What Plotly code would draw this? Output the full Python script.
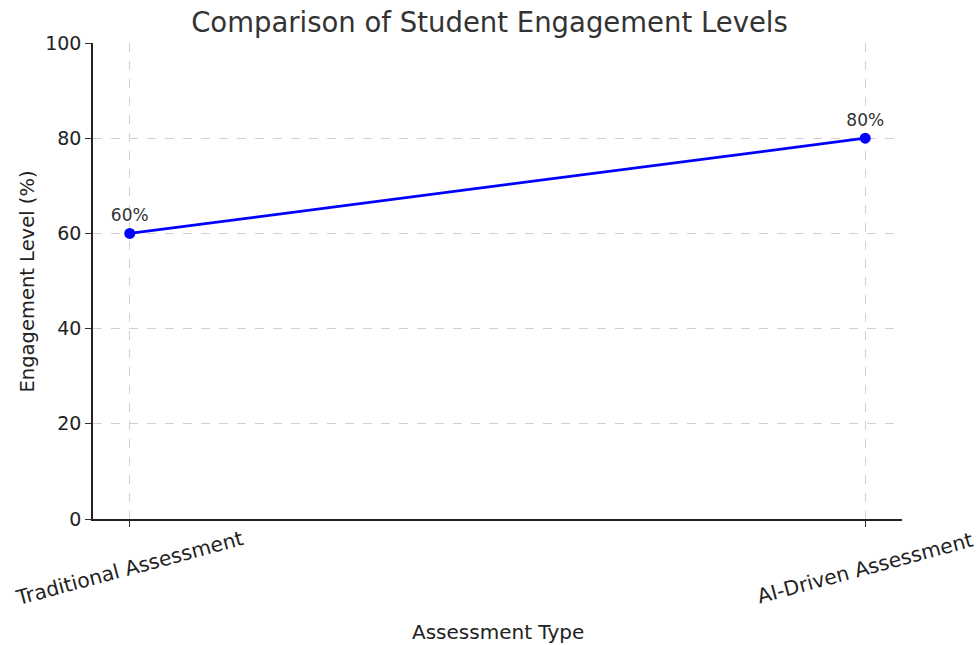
import plotly.graph_objects as go

categories = ["Traditional Assessment", "AI-Driven Assessment"]
engagement = [60, 80]
labels = ["60%", "80%"]
y_ticks = [0, 20, 40, 60, 80, 100]

FONT = "DejaVu Sans"

fig = go.Figure()
fig.add_trace(go.Scatter(
    x=categories, y=engagement,
    mode="lines+markers+text",
    line=dict(color="#0000FF", width=2.7),
    marker=dict(color="#0000FF", size=11),
    text=labels, textposition="top center",
    textfont=dict(family=FONT, size=17, color="#333333"),
    cliponaxis=False, showlegend=False,
))

for c in categories:
    fig.add_annotation(
        x=c, y=-0.103, xref="x", yref="paper",
        text=c, showarrow=False, textangle=-15,
        xanchor="center", yanchor="middle",
        font=dict(family=FONT, size=20.3, color="#222222"),
    )

fig.add_annotation(x=0.5, y=-0.237, xref="paper", yref="paper",
                   text="Assessment Type", showarrow=False,
                   xanchor="center", yanchor="middle",
                   font=dict(family=FONT, size=20, color="#222222"))
fig.add_annotation(x=-0.081, y=0.5, xref="paper", yref="paper",
                   text="Engagement Level (%)", showarrow=False, textangle=-90,
                   xanchor="center", yanchor="middle",
                   font=dict(family=FONT, size=19.5, color="#222222"))

grid = dict(showgrid=True, gridcolor="#d0d0d0", griddash="dash", gridwidth=1)

fig.update_layout(
    width=979, height=645,
    margin=dict(l=93, r=77, t=43, b=126),
    paper_bgcolor="white", plot_bgcolor="white",
    title=dict(text="Comparison of Student Engagement Levels", x=0.5, xanchor="center",
               y=1 - 22 / 645, yanchor="middle",
               font=dict(family=FONT, size=27.5, color="#333333")),
    font=dict(family=FONT, size=18, color="#222222"),
)
fig.update_xaxes(type="category", categoryarray=categories, range=[-0.05, 1.05],
                 showticklabels=False, ticks="outside", ticklen=6, tickcolor="#333333",
                 showline=True, linecolor="#222222", linewidth=1.5, zeroline=False, **grid)
fig.update_yaxes(range=[0, 100], tickvals=y_ticks, ticks="outside", ticklen=6,
                 tickcolor="#333333", tickfont=dict(family=FONT, size=19, color="#222222"),
                 showline=True, linecolor="#222222", linewidth=1.5, zeroline=False, **grid)

fig.write_html("out.html", config={"displayModeBar": False},
               post_script="document.body.style.margin='0';")
